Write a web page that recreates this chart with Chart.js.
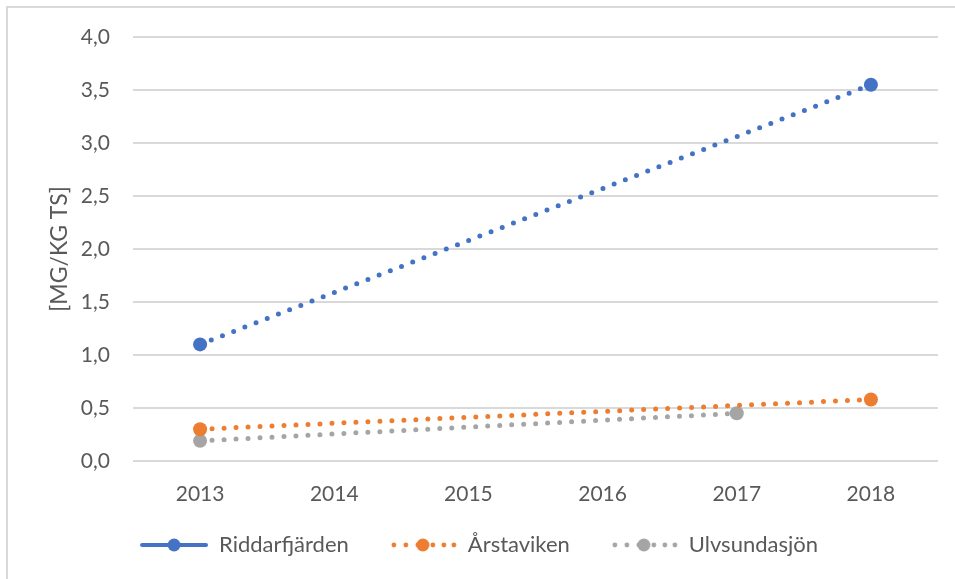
<!DOCTYPE html>
<html>
<head>
<meta charset="utf-8">
<script src="https://cdn.jsdelivr.net/npm/chart.js@4.4.0/dist/chart.umd.min.js"></script>
<style>
  html, body { margin: 0; padding: 0; background: #fff; }
  #wrap { position: relative; width: 955px; height: 579px; overflow: hidden; }
  #frame { position: absolute; left: 6px; top: 6px; width: 1000px; height: 700px;
           border-top: 2px solid #d9d9d9; border-left: 2px solid #d9d9d9; pointer-events: none; }
  canvas { position: absolute; left: 0; top: 0; }
</style>
</head>
<body>
<div id="wrap">
  <canvas id="canvas-mg" width="955" height="579"></canvas>
  <div id="frame"></div>
</div>
<script>
var years = ['2013', '2014', '2015', '2016', '2017', '2018'];
var riddarfjarden = [1.1, null, null, null, null, 3.55];
var arstaviken = [0.3, null, null, null, null, 0.58];
var ulvsundasjon = [0.19, null, null, null, 0.45, null];
var yTicks = [0, 0.5, 1, 1.5, 2, 2.5, 3, 3.5, 4];

var blue = '#4472C4', orange = '#ED7D31', grey = '#A5A5A5';
var fontFamily = 'Lato, "Open Sans", sans-serif';

// legend swatch: line with a marker in the middle, solid or dotted
// (left 20px transparent so items sit further apart)
function legendSwatch(color, dotted){
    var c = document.createElement('canvas');
    c.width = 88; c.height = 18;
    var g = c.getContext('2d');
    var x0 = 22, x1 = 86, cy = 9, mid = 54;
    g.strokeStyle = color;
    g.fillStyle = color;
    g.lineCap = 'round';
    if(dotted){
        [x0 + 3, x0 + 15, x0 + 27, mid + 10, mid + 21, mid + 31].forEach(function(x){
            g.beginPath(); g.arc(x, cy, 2.4, 0, Math.PI * 2); g.fill();
        });
    } else {
        g.lineWidth = 4;
        g.beginPath(); g.moveTo(x0, cy); g.lineTo(x1, cy); g.stroke();
    }
    g.beginPath(); g.arc(mid, cy, 6.5, 0, Math.PI * 2); g.fill();
    return c;
}

function series(label, data, color){
    return {
        label: label,
        data: data,
        borderColor: color,
        backgroundColor: color,
        borderWidth: 5,
        borderDash: [0, 12],
        borderCapStyle: 'round',
        spanGaps: true,
        pointRadius: 7,
        pointHoverRadius: 7,
        pointBorderWidth: 0,
        pointBackgroundColor: color,
        tension: 0
    };
}

var swatches = [legendSwatch(blue, false), legendSwatch(orange, true), legendSwatch(grey, true)];

var ctx = document.getElementById('canvas-mg').getContext('2d');
var chart = new Chart(ctx, {
    type: 'line',
    data: {
        labels: years,
        datasets: [
            series('Riddarfjärden', riddarfjarden, blue),
            series('Årstaviken', arstaviken, orange),
            series('Ulvsundasjön', ulvsundasjon, grey)
        ]
    },
    options: {
        responsive: false,
        animation: false,
        events: [],
        layout: { padding: { top: 37, right: 17, bottom: 13, left: 0 } },
        scales: {
            y: {
                min: 0,
                max: 4,
                afterBuildTicks: function(scale){
                    scale.ticks = yTicks.map(function(v){ return { value: v }; });
                },
                afterFit: function(scale){ scale.width = 133; },
                border: { display: false },
                grid: { color: '#d9d9d9', lineWidth: 2, drawTicks: false },
                ticks: {
                    padding: 23,
                    color: '#595959',
                    font: { family: fontFamily, size: 21 },
                    callback: function(v){ return v.toFixed(1).replace('.', ','); }
                },
                title: {
                    display: true,
                    text: '[MG/KG TS]',
                    color: '#595959',
                    font: { family: fontFamily, size: 23 },
                    padding: { top: 46, bottom: 0 }
                }
            },
            x: {
                offset: true,
                afterFit: function(scale){ scale.height = 53; },
                border: { display: false },
                grid: { display: false, drawTicks: false },
                ticks: {
                    padding: 21,
                    color: '#595959',
                    font: { family: fontFamily, size: 21 }
                }
            }
        },
        plugins: {
            tooltip: { enabled: false },
            legend: {
                position: 'bottom',
                labels: {
                    usePointStyle: true,
                    pointStyleWidth: 88,
                    padding: 20,
                    color: '#595959',
                    font: { family: fontFamily, size: 22 },
                    generateLabels: function(ch){
                        return ch.data.datasets.map(function(ds, i){
                            return {
                                text: ds.label,
                                pointStyle: swatches[i],
                                fillStyle: ds.borderColor,
                                strokeStyle: ds.borderColor,
                                lineWidth: 0,
                                fontColor: '#595959',
                                hidden: false,
                                datasetIndex: i
                            };
                        });
                    }
                }
            }
        }
    }
});
</script>
</body>
</html>
